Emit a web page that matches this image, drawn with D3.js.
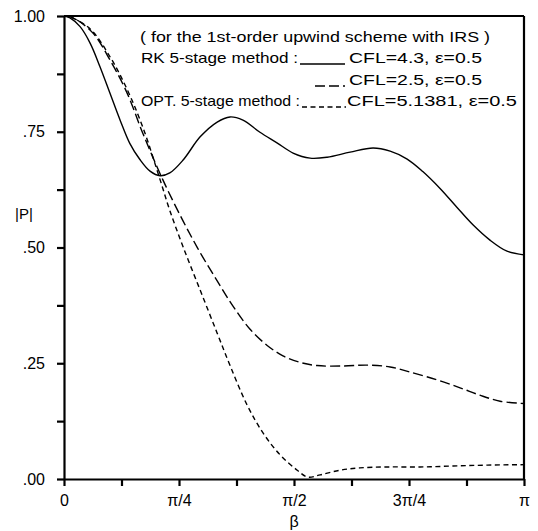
<!DOCTYPE html>
<html>
<head>
<meta charset="utf-8">
<script src="https://cdn.jsdelivr.net/npm/d3@7"></script>
<style>
  html, body { margin: 0; padding: 0; background: #fff; }
  svg { display: block; font-family: "Liberation Sans", Arial, sans-serif; }
</style>
</head>
<body>
<svg id="chart" width="538" height="531"></svg>
<script>
// beta in units of pi, |P| amplification factor
var betaSolid = [0, 0.013, 0.035, 0.057, 0.078, 0.100, 0.122, 0.143, 0.165, 0.187, 0.209, 0.230, 0.259, 0.296, 0.333, 0.361, 0.389, 0.426, 0.463, 0.498, 0.535, 0.572, 0.622, 0.672, 0.709, 0.746, 0.780, 0.817, 0.854, 0.889, 0.926, 0.963, 1.0];
var pSolid = [1.0, 0.996, 0.977, 0.941, 0.891, 0.833, 0.775, 0.725, 0.690, 0.665, 0.655, 0.661, 0.689, 0.739, 0.771, 0.782, 0.775, 0.749, 0.726, 0.704, 0.693, 0.695, 0.706, 0.715, 0.708, 0.691, 0.664, 0.628, 0.587, 0.549, 0.516, 0.492, 0.484];

var betaLong = [0, 0.020, 0.063, 0.100, 0.137, 0.172, 0.215, 0.259, 0.296, 0.333, 0.367, 0.404, 0.441, 0.476, 0.513, 0.550, 0.607, 0.659, 0.709, 0.752, 0.811, 0.861, 0.904, 0.948, 1.0];
var pLong = [1.0, 0.996, 0.963, 0.905, 0.834, 0.745, 0.646, 0.557, 0.489, 0.428, 0.374, 0.324, 0.289, 0.266, 0.252, 0.245, 0.244, 0.246, 0.242, 0.231, 0.214, 0.197, 0.181, 0.168, 0.163];

var betaShort = [0, 0.013, 0.057, 0.100, 0.137, 0.172, 0.209, 0.230, 0.259, 0.296, 0.333, 0.361, 0.398, 0.433, 0.470, 0.507, 0.530, 0.557, 0.600, 0.643, 0.702, 0.774, 0.846, 0.920, 1.0];
var pShort = [1.0, 0.998, 0.972, 0.912, 0.842, 0.758, 0.646, 0.580, 0.501, 0.408, 0.315, 0.245, 0.160, 0.099, 0.052, 0.019, 0.004, 0.009, 0.019, 0.024, 0.026, 0.026, 0.028, 0.030, 0.031];

var xTicks = [0, 0.125, 0.25, 0.375, 0.5, 0.625, 0.75, 0.875, 1];
var xTickLabels = {0: '0', 0.25: 'π/4', 0.5: 'π/2', 0.75: '3π/4', 1: 'π'};
var yTicks = [0, 0.125, 0.25, 0.375, 0.5, 0.625, 0.75, 0.875, 1];

var legendTitle = '( for the 1st-order upwind scheme with IRS )';
var legendRows = [
  {label: 'RK 5-stage method :', cfl: 'CFL=4.3, ε=0.5'},
  {label: '', cfl: 'CFL=2.5, ε=0.5'},
  {label: 'OPT. 5-stage method :', cfl: 'CFL=5.1381, ε=0.5'}
];

var margin = {left: 64, right: 14, top: 16, bottom: 52}
  , width = 538 - margin.left - margin.right
  , height = 531 - margin.top - margin.bottom;

var svg = d3.select('#chart');
var g = svg.append('g').attr('transform', 'translate(' + margin.left + ',' + margin.top + ')');

var x = d3.scaleLinear().domain([0, 1]).range([0, width]);
var y = d3.scaleLinear().domain([0, 1]).range([height, 0]);

var yAxis = d3.axisLeft(y)
  .tickValues(yTicks)
  .tickSize(7)
  .tickSizeOuter(0)
  .tickPadding(12)
  .tickFormat(function (d) {
    if (d * 4 % 1 !== 0) return '';
    return d === 1 ? '1.00' : d3.format('.2f')(d).replace(/^0/, '');
  });

var xAxis = d3.axisBottom(x)
  .tickValues(xTicks)
  .tickSize(7)
  .tickSizeOuter(0)
  .tickPadding(9)
  .tickFormat(function (d) { return xTickLabels[d] || ''; });

g.append('g').attr('class', 'y axis').call(yAxis);
g.append('g').attr('class', 'x axis').attr('transform', 'translate(0,' + height + ')').call(xAxis);

g.selectAll('.axis path, .axis line').style('stroke', '#000').style('stroke-width', 2.2);
g.selectAll('.axis text').style('font-size', '16px').style('fill', '#000');

// frame top + right
g.append('line').attr('x1', 0).attr('x2', width).attr('y1', 0).attr('y2', 0)
  .style('stroke', '#000').style('stroke-width', 2);
g.append('line').attr('x1', width).attr('x2', width).attr('y1', 0).attr('y2', height)
  .style('stroke', '#000').style('stroke-width', 2.2);

var line = d3.line()
  .x(function (d) { return x(d[0]); })
  .y(function (d) { return y(d[1]); })
  .curve(d3.curveCatmullRom.alpha(0.5));

var series = [
  {b: betaSolid, p: pSolid, dash: null},
  {b: betaLong, p: pLong, dash: '10,4'},
  {b: betaShort, p: pShort, dash: '5,3.5'}
];

series.forEach(function (s) {
  g.append('path')
    .datum(d3.zip(s.b, s.p))
    .attr('d', line)
    .style('fill', 'none')
    .style('stroke', '#000')
    .style('stroke-width', 1.4)
    .style('stroke-dasharray', s.dash);
});

// axis titles
svg.append('text').attr('x', 15).attr('y', 219).text('|P|')
  .style('font-size', '15px');
svg.append('text').attr('x', margin.left + x(0.5)).attr('y', 527)
  .attr('text-anchor', 'middle').text('β').style('font-size', '16px');

// legend
svg.append('text').attr('x', 140).attr('y', 42).text(legendTitle)
  .attr('textLength', 350).attr('lengthAdjust', 'spacingAndGlyphs')
  .style('font-size', '15px');

var rowY = [63, 85, 106]
  , labelW = [157, 0, 159]
  , sampleX = [[300, 345], [315, 345], [302, 346]]
  , cflX = [349, 349, 347]
  , cflW = [133, 133, 170];

legendRows.forEach(function (r, i) {
  if (r.label) {
    svg.append('text').attr('x', 141).attr('y', rowY[i]).text(r.label)
      .attr('textLength', labelW[i]).attr('lengthAdjust', 'spacingAndGlyphs')
      .style('font-size', '15px');
  }
  svg.append('line')
    .attr('x1', sampleX[i][0]).attr('x2', sampleX[i][1])
    .attr('y1', rowY[i] + 1).attr('y2', rowY[i] + 1)
    .style('stroke', '#000').style('stroke-width', 1.4)
    .style('stroke-dasharray', series[i].dash);
  svg.append('text').attr('x', cflX[i]).attr('y', rowY[i]).text(r.cfl)
    .attr('textLength', cflW[i]).attr('lengthAdjust', 'spacingAndGlyphs')
    .style('font-size', '15px');
});
</script>
</body>
</html>
